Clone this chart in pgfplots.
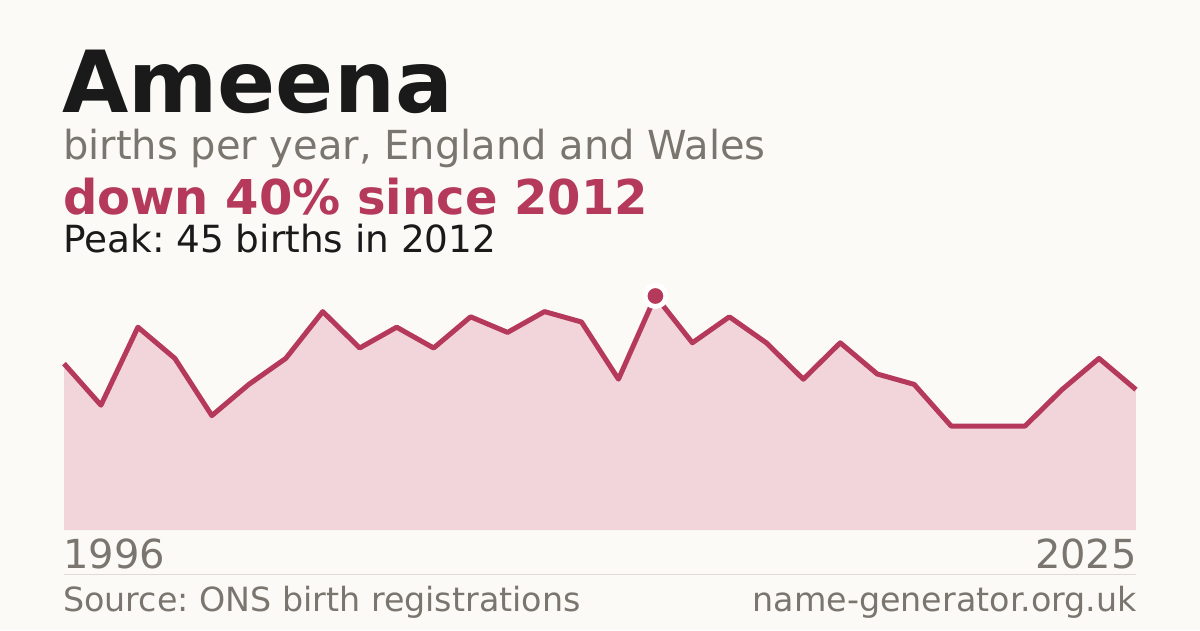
\documentclass[border=0pt]{standalone}
\usepackage{pgfplots}
\pgfplotsset{compat=1.18}
\usepackage{pgfplotstable}
\usepackage{fontspec}
\setmainfont{DejaVu Sans}
\frenchspacing
\definecolor{bg}{HTML}{FBFAF6}
\definecolor{ink}{HTML}{1A1A1A}
\definecolor{muted}{HTML}{7A756E}
\definecolor{accent}{HTML}{B5395A}
\definecolor{areafill}{HTML}{F2D5DA}
\definecolor{rulec}{HTML}{DEDBD4}
\pgfplotstableread{
year births
1996 32
1997 24
1998 39
1999 33
2000 22
2001 28
2002 33
2003 42
2004 35
2005 39
2006 35
2007 41
2008 38
2009 42
2010 40
2011 29
2012 45
2013 36
2014 41
2015 36
2016 29
2017 36
2018 30
2019 28
2020 20
2021 20
2022 20
2023 27
2024 33
2025 27
}\births
\begin{document}
\begin{tikzpicture}[x=1pt,y=1pt]
\fill[bg] (0,0) rectangle (1200,630);
\useasboundingbox (0,0) rectangle (1200,630);
\begin{axis}[
  at={(64pt,100pt)}, anchor=south west,
  scale only axis, width=1072pt, height=260pt,
  xmin=1996, xmax=2025, ymin=0, ymax=50,
  hide axis, clip=false,
]
\addplot[draw=none, fill=areafill] table[x=year,y=births]{\births} \closedcycle;
\addplot[accent, line width=5pt, line join=round] table[x=year,y=births]{\births};
\addplot[only marks, mark=*, mark size=10.5pt, mark options={fill=accent, draw=white, line width=5pt}] coordinates {(2012,45)};
\end{axis}
\node[anchor=base west, inner sep=0, text=ink, font=\fontsize{85.7}{86}\selectfont\bfseries] at (62,517) {Ameena};
\node[anchor=base west, inner sep=0, text=muted, font=\fontsize{40}{40}\selectfont] at (63,470) {births per year, England and Wales};
\node[anchor=base west, inner sep=0, text=accent, font=\fontsize{48}{48}\selectfont\bfseries] at (63,415) {down 40\% since 2012};
\node[anchor=base west, inner sep=0, text=ink, font=\fontsize{37.4}{38}\selectfont] at (63,377) {Peak: 45 births in 2012};
\node[anchor=base west, inner sep=0, text=muted, font=\fontsize{40}{40}\selectfont] at (63,62) {1996};
\node[anchor=base east, inner sep=0, text=muted, font=\fontsize{40}{40}\selectfont] at (1137,62) {2025};
\draw[rulec, line width=1pt] (64,56) -- (1136,56);
\node[anchor=base west, inner sep=0, text=muted, font=\fontsize{33.3}{34}\selectfont] at (63,19) {Source: ONS birth registrations};
\node[anchor=base east, inner sep=0, text=muted, font=\fontsize{33.3}{34}\selectfont] at (1137,19) {name-generator.org.uk};
\end{tikzpicture}
\end{document}
